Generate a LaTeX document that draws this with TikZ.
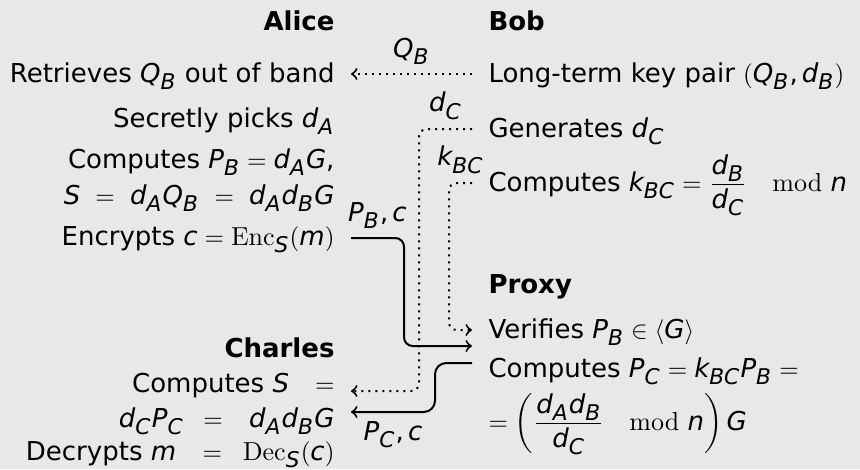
\documentclass[tikz,border=0pt]{standalone}
\usepackage{amsmath}
\usepackage{fontspec}
\setmainfont{DejaVu Sans}
\usepackage[italic]{mathastext}
\newfontfamily\lmfont{Latin Modern Roman}
\newcommand{\lmop}[1]{\text{\lmfont #1}}
\definecolor{bg}{HTML}{E8E8E8}
\begin{document}
\begin{tikzpicture}[x=0.4pt,y=-0.4pt,
  every node/.style={font=\fontsize{10.4}{12.5}\selectfont},
  txt/.style={inner xsep=6.4pt, inner ysep=0pt},
  lft/.style={txt, anchor=base east},
  rgt/.style={txt, anchor=base west},
  head/.style={font=\fontsize{10.4}{12.5}\selectfont\bfseries},
  msg/.style={line width=0.8pt, ->},
  key/.style={line width=0.8pt, dotted, ->}]
\useasboundingbox (0,0) rectangle (860,469);
\fill[bg] (0,0) rectangle (860,469);

% Alice
\node[lft,head] (alice) at (351,30) {Alice};
\node[lft] (aret) at (351,82) {Retrieves $Q_B$ out of band};
\node[lft] (apick) at (351,127) {Secretly picks $d_A$};
\node[lft] (acomp) at (351,168) {Computes $P_B = d_AG$,};
\node[lft] (ashared) at (351,204) {$S\ =\ d_AQ_B\ =\ d_Ad_BG$};
\node[lft] (aenc) at (351,245) {Encrypts $c = \lmop{Enc}_S(m)$};

% Charles
\node[lft,head] (charles) at (351,357) {Charles};
\node[lft] (ccomp) at (351,392) {Computes $S$\quad$=$};
\node[lft] (cshared) at (351,427) {$d_CP_C\mkern9mu=\mkern14mu d_Ad_BG$};
\node[lft] (cdec) at (351,460) {Decrypts $m\mkern14mu=\mkern10mu\lmop{Dec}_S(c)$};

% Bob
\node[rgt,head] (bob) at (472,30) {Bob};
\node[rgt] (bkey) at (472,82) {Long-term key pair $(Q_B, d_B)$};
\node[rgt] (bgen) at (472,137) {Generates $d_C$};
\node[rgt] (bkbc) at (472,191) {Computes $k_{BC} = \dfrac{d_B}{d_C}\mkern18mu\lmop{mod}\ n$};

% Proxy
\node[rgt,head] (proxy) at (472,293) {Proxy};
\node[rgt] (pver) at (472,338) {Verifies $P_B \in \langle G\rangle$};
\node[rgt] (pcomp) at (472,377) {Computes $P_C = k_{BC}P_B =$};
\node[rgt] (pres) at (472,430) {$=\left(\dfrac{d_Ad_B}{d_C}\mkern18mu\lmop{mod}\ n\right)G$};

% guides
\coordinate (xd) at (419,0);
\coordinate (xk) at (449,0);
\coordinate (xp) at (404,0);
\coordinate (xc) at (435,0);

% connectors
\draw[key] ([yshift=3.2pt]bkey.base west) -- node[above] (lqb) {$Q_B$} ([yshift=3.2pt]aret.base east);
\draw[key, rounded corners=3pt] ([yshift=3.2pt]bgen.base west) coordinate (s1)
  -- node[above] (ldc) {$d_C$} (s1 -| xd) |- ([yshift=0.4pt]ccomp.base east);
\draw[key, rounded corners=3pt] ([yshift=3.2pt]bkbc.base west) coordinate (s2)
  -- node[above] (lkbc) {$k_{BC}$} (s2 -| xk) |- ([yshift=3.2pt]pver.base west);
\draw[msg, rounded corners=3.5pt] ([yshift=2.8pt]aenc.base east) coordinate (s3)
  -- node[above] (lpb) {$P_B, c$} (s3 -| xp) |- ([yshift=-3.2pt]pver.base west);
\draw[msg, rounded corners=4.5pt] ([yshift=5.6pt]pcomp.base west) coordinate (s4)
  -- (s4 -| xc) |- node[pos=0.75, below] (lpc) {$P_C, c$} ([yshift=6pt]cshared.base east);
\end{tikzpicture}
\end{document}
